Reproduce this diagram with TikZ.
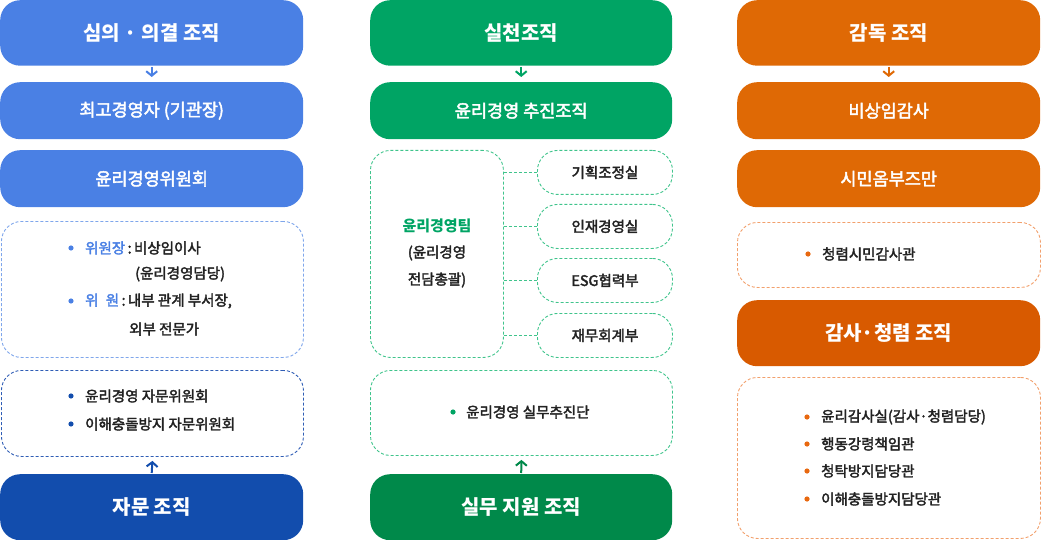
\documentclass[tikz,border=0pt]{standalone}
\usepackage{fontspec}
\setmainfont{Noto Sans CJK KR}
\newfontfamily\medfont[FakeBold=2.5]{Noto Sans CJK KR}
\usetikzlibrary{arrows.meta}
\definecolor{bA}{HTML}{4A80E4}
\definecolor{bB}{HTML}{124DAD}
\definecolor{bD}{HTML}{7FA6EB}
\definecolor{bE}{HTML}{2F5DB5}
\definecolor{gA}{HTML}{00A464}
\definecolor{gB}{HTML}{00894A}
\definecolor{gD}{HTML}{40C48C}
\definecolor{oA}{HTML}{DF6905}
\definecolor{oB}{HTML}{D85A00}
\definecolor{oD}{HTML}{F2A06C}
\definecolor{oT}{HTML}{E8680F}
\definecolor{txt}{HTML}{222222}
\begin{document}
\begin{tikzpicture}[x=1pt,y=-1pt,
  fbox/.style={rectangle, rounded corners=20pt, fill=#1, draw=none, text=white, inner sep=0pt, anchor=north west},
  ttl/.style={font=\fontsize{20}{23}\selectfont\bfseries, minimum height=65.5pt},
  sub/.style={font=\fontsize{17.5}{20}\selectfont\medfont, minimum height=57pt},
  dbox/.style={rectangle, rounded corners=20pt, draw=#1, line width=0.9pt, dash pattern=on 3pt off 2pt, inner sep=0pt, anchor=north west},
  body/.style={font=\fontsize{14.5}{17}\selectfont\medfont, text=txt},
  lbl/.style={body, inner sep=0pt, anchor=west},
  arr/.style={draw=#1, line width=2pt, -{Straight Barb[length=4.5pt,width=11pt]}},
  conn/.style={draw=gD, line width=0.9pt, dash pattern=on 3pt off 2pt}
]
\useasboundingbox (0,0) rectangle (1041,540);

% ---------- left column ----------
\node[fbox=bA, ttl, minimum width=303pt] (L1) at (0,0) {심의 · 의결 조직};
\node[fbox=bA, sub, minimum width=303pt] (L2) at (0,82) {최고경영자 (기관장)};
\node[fbox=bA, sub, minimum width=303pt] (L3) at (0,150) {윤리경영위원회};
\node[dbox=bD, minimum width=302pt, minimum height=136pt] (L4) at (1,221) {};
\node[dbox=bE, minimum width=302pt, minimum height=86pt] (L5) at (1,370) {};
\node[fbox=bB, ttl, minimum width=303pt, minimum height=66pt] (L6) at (0,474) {자문 조직};
\path[arr=bA] (L1.south) ++(0,1) coordinate (a1) (a1) -- ([yshift=5pt]L2.north);
\path[arr=bB] (L6.north) ++(0,-1) coordinate (a2) (a2) -- ([yshift=-4pt]L5.south);

\fill[bA] (71,248) circle (2.6);
\node[lbl] (t1) at (85,248) {\textcolor{bA}{위원장}\,:\,비상임이사};
\node[lbl] (t2) at (135,274) {(윤리경영담당)};
\fill[bA] (71,301) circle (2.6);
\node[lbl] (t3) at (85,301) {\textcolor{bA}{위\hspace{0.5em}원}\,:\,내부 관계 부서장,};
\node[lbl] (t4) at (129,329) {외부 전문가};
\fill[bB] (71,396) circle (2.6);
\node[lbl] (t5) at (85,396) {윤리경영 자문위원회};
\fill[bB] (71,424) circle (2.6);
\node[lbl] (t6) at (85,424) {이해충돌방지 자문위원회};

% ---------- middle column ----------
\node[fbox=gA, ttl, minimum width=302pt] (M1) at (370,0) {실천조직};
\node[fbox=gA, sub, minimum width=302pt] (M2) at (370,82) {윤리경영 추진조직};
\node[dbox=gD, minimum width=133pt, minimum height=207pt] (M3) at (370,150) {};
\node[dbox=gD, body, minimum width=135pt, minimum height=44pt] (K1) at (537,150) {기획조정실};
\node[dbox=gD, body, minimum width=135pt, minimum height=44pt] (K2) at (537,204) {인재경영실};
\node[dbox=gD, body, minimum width=135pt, minimum height=44pt] (K3) at (537,258) {ESG협력부};
\node[dbox=gD, body, minimum width=135pt, minimum height=44pt] (K4) at (537,313) {재무회계부};
\node[dbox=gD, minimum width=302pt, minimum height=85pt] (M4) at (370,370) {};
\node[fbox=gB, ttl, minimum width=302pt, minimum height=66pt] (M5) at (370,474) {실무 지원 조직};
\path[arr=gA] (M1.south) ++(0,1) coordinate (a3) (a3) -- ([yshift=5pt]M2.north);
\path[arr=gB] (M5.north) ++(0,-1) coordinate (a4) (a4) -- ([yshift=-4pt]M4.south);
\foreach \k in {K1,K2,K3,K4} \path[conn] (M3.east |- \k.west) -- (\k.west);

\node[font=\fontsize{15}{17}\selectfont\bfseries, text=gA, inner sep=0pt] (m1) at (437,226) {윤리경영팀};
\node[body, inner sep=0pt] (m2) at (437,253) {(윤리경영};
\node[body, inner sep=0pt] (m3) at (437,280) {전담총괄)};
\fill[gA] (453,412) circle (2.6);
\node[lbl] (m4) at (466,412) {윤리경영 실무추진단};

% ---------- right column ----------
\node[fbox=oA, ttl, minimum width=303pt] (R1) at (737,0) {감독 조직};
\node[fbox=oA, sub, minimum width=303pt] (R2) at (737,82) {비상임감사};
\node[fbox=oA, sub, minimum width=303pt] (R3) at (737,150) {시민옴부즈만};
\node[dbox=oD, minimum width=303pt, minimum height=65pt] (R4) at (737,222) {};
\node[fbox=oB, ttl, minimum width=303pt, minimum height=66pt] (R5) at (737,300) {감사·청렴 조직};
\node[dbox=oD, minimum width=303pt, minimum height=161pt] (R6) at (737,377) {};
\path[arr=oA] (R1.south) ++(0,1) coordinate (a5) (a5) -- ([yshift=5pt]R2.north);

\fill[oT] (808,254) circle (2.6);
\node[lbl] (r1) at (822,254) {청렴시민감사관};
\fill[oT] (807,417) circle (2.6);
\node[lbl] (r2) at (821,417) {윤리감사실(감사·청렴담당)};
\fill[oT] (807,444) circle (2.6);
\node[lbl] (r3) at (821,444) {행동강령책임관};
\fill[oT] (807,471) circle (2.6);
\node[lbl] (r4) at (821,471) {청탁방지담당관};
\fill[oT] (807,499) circle (2.6);
\node[lbl] (r5) at (821,499) {이해충돌방지담당관};
\end{tikzpicture}
\end{document}
